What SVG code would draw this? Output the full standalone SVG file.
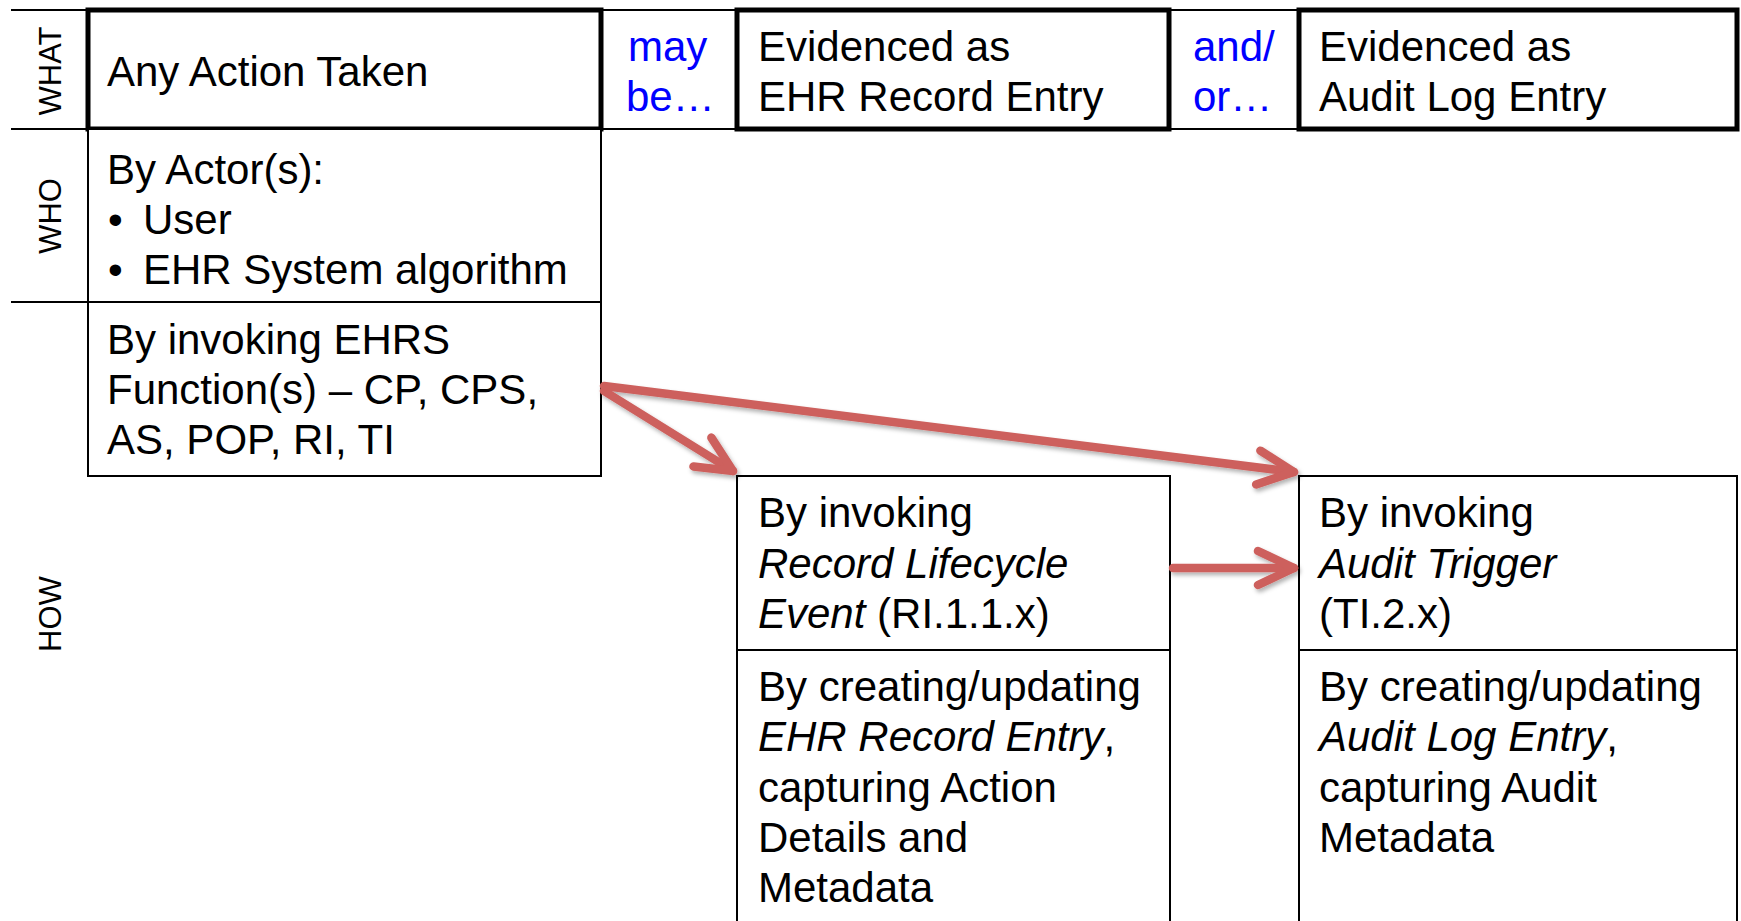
<svg xmlns="http://www.w3.org/2000/svg" width="1741" height="921" viewBox="0 0 1741 921">
<style>
text{font-family:"Liberation Sans",Arial,sans-serif;font-size:42px;fill:#000}
.lbl{font-size:31px}
.blue{fill:#0000FF}
.it{font-style:italic}
.thin{fill:#fff;stroke:#000;stroke-width:2}
.thick{fill:#fff;stroke:#000;stroke-width:5}
.rule{stroke:#000;stroke-width:2;fill:none}
.arrow{stroke:#CD605D;stroke-width:8.5;fill:none;stroke-linecap:round;stroke-linejoin:round}
</style>
<defs>
<marker id="ah" markerUnits="userSpaceOnUse" markerWidth="90" markerHeight="90" refX="0" refY="0" orient="auto" overflow="visible">
<path d="M -36 -17 L 0 0 L -36 17" fill="none" stroke="#CD605D" stroke-width="8.5" stroke-linecap="round" stroke-linejoin="round"/>
</marker>
<filter id="sh" x="-10%" y="-10%" width="120%" height="140%">
<feDropShadow dx="2" dy="3" stdDeviation="2" flood-color="#000" flood-opacity="0.3"/>
</filter>
</defs>
<rect x="0" y="0" width="1741" height="921" fill="#fff"/>
<g id="grid">
<line class="rule" x1="11" y1="10" x2="1737" y2="10"/>
<line class="rule" x1="11" y1="129" x2="1737" y2="129"/>
<line class="rule" x1="11" y1="302" x2="88" y2="302"/>
</g>
<g id="row-labels">
<text class="lbl" text-anchor="middle" transform="translate(61,71) rotate(-90)">WHAT</text>
<text class="lbl" text-anchor="middle" transform="translate(61,216) rotate(-90)">WHO</text>
<text class="lbl" text-anchor="middle" transform="translate(61,614) rotate(-90)">HOW</text>
</g>
<g id="what">
<rect class="thick" x="88" y="10" width="513" height="119"/>
<text x="107" y="86">Any Action Taken</text>
</g>
<g id="maybe">
<text class="blue" x="628" y="61">may</text>
<text class="blue" x="626" y="111">be…</text>
</g>
<g id="ehr-evidence">
<rect class="thick" x="737" y="10" width="432" height="119"/>
<text x="758" y="61">Evidenced as</text>
<text x="758" y="111">EHR Record Entry</text>
</g>
<g id="andor">
<text class="blue" x="1193" y="61">and/</text>
<text class="blue" x="1193" y="111">or…</text>
</g>
<g id="audit-evidence">
<rect class="thick" x="1299" y="10" width="438" height="119"/>
<text x="1319" y="61">Evidenced as</text>
<text x="1319" y="111">Audit Log Entry</text>
</g>
<g id="who">
<rect class="thin" x="88" y="129" width="513" height="173"/>
<text x="107" y="184">By Actor(s):</text>
<text x="108" y="234">•</text>
<text x="143" y="234">User</text>
<text x="108" y="284">•</text>
<text x="143" y="284">EHR System algorithm</text>
</g>
<g id="how">
<rect class="thin" x="88" y="302" width="513" height="174"/>
<text x="107" y="354">By invoking EHRS</text>
<text x="107" y="404">Function(s) – CP, CPS,</text>
<text x="107" y="454">AS, POP, RI, TI</text>
</g>
<g id="record-lifecycle">
<rect class="thin" x="737" y="476" width="433" height="174"/>
<text x="758" y="527">By invoking</text>
<text x="758" y="578" class="it">Record Lifecycle</text>
<text x="758" y="628"><tspan class="it">Event</tspan> (RI.1.1.x)</text>
</g>
<g id="ehr-record-entry">
<rect class="thin" x="737" y="650" width="433" height="280"/>
<text x="758" y="701">By creating/updating</text>
<text x="758" y="751"><tspan class="it">EHR Record Entry</tspan>,</text>
<text x="758" y="802">capturing Action</text>
<text x="758" y="852">Details and</text>
<text x="758" y="902">Metadata</text>
</g>
<g id="audit-trigger">
<rect class="thin" x="1299" y="476" width="438" height="174"/>
<text x="1319" y="527">By invoking</text>
<text x="1319" y="578" class="it">Audit Trigger</text>
<text x="1319" y="628">(TI.2.x)</text>
</g>
<g id="audit-log-entry">
<rect class="thin" x="1299" y="650" width="438" height="280"/>
<text x="1319" y="701">By creating/updating</text>
<text x="1319" y="751"><tspan class="it">Audit Log Entry</tspan>,</text>
<text x="1319" y="802">capturing Audit</text>
<text x="1319" y="852">Metadata</text>
</g>
<g id="connectors" filter="url(#sh)">
<line class="arrow" x1="604" y1="391" x2="733" y2="471" marker-end="url(#ah)"/>
<line class="arrow" x1="604" y1="386" x2="1294" y2="472" marker-end="url(#ah)"/>
<line class="arrow" x1="1173" y1="568" x2="1294" y2="568" marker-end="url(#ah)"/>
</g>
</svg>
